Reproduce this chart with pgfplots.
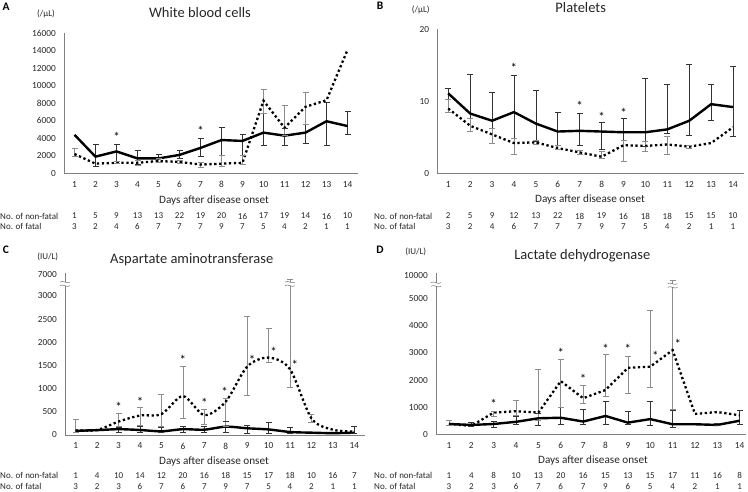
\documentclass[border=0pt]{standalone}
\usepackage{pgfplots}
\usepackage{pgfplotstable}
\pgfplotsset{compat=1.18}
\usepackage{fontspec}
\setmainfont{Carlito}

% ---------- data ----------
\pgfplotstableread{
x s d
1 4400 2200
2 1900 1100
3 2500 1200
4 1700 1200
5 1700 1400
6 2100 1300
7 2900 1000
8 3800 1100
9 3700 1200
10 4650 8300
11 4300 5200
12 4650 7600
13 5950 8350
14 5400 14100
}\Adata
\pgfplotstableread{
x lo hi
2 800 3350
3 1400 3350
4 1050 2650
5 1200 2150
6 1700 2600
7 1900 4000
8 2050 5200
9 2100 4400
10 3150 6900
11 3200 5100
12 3400 5600
13 3200 8100
14 4400 7100
}\Asb
\pgfplotstableread{
x lo hi
1 1900 2900
3 1100 1400
4 900 1500
5 1200 1700
6 1100 1500
7 700 1300
8 750 2000
9 1000 2100
10 6900 9600
11 4300 7800
12 5600 9200
}\Adb

\pgfplotstableread{
x s d
1 11.1 9.0
2 8.3 6.6
3 7.3 5.4
4 8.5 4.2
5 6.9 4.3
6 5.8 3.5
7 5.9 2.9
8 5.8 2.3
9 5.7 3.9
10 5.7 3.8
11 6.1 4.0
12 7.3 3.7
13 9.6 4.2
14 9.2 6.4
}\Bdata
\pgfplotstableread{
x lo hi
1 10.3 11.8
2 7.7 13.7
3 6.3 11.3
4 4.9 13.6
5 4.4 11.5
6 3.9 8.5
7 3.9 8.4
8 3.3 7.1
9 4.6 7.6
10 3.8 13.2
11 5.5 12.3
12 5.3 15.2
13 7.4 12.4
14 5.2 14.9
}\Bsb
\pgfplotstableread{
x lo hi
1 8.5 10.3
2 5.9 7.6
3 4.2 6.3
4 2.7 4.9
5 4.0 4.6
6 3.3 3.9
7 2.6 3.2
8 2.1 3.0
9 1.7 4.6
10 3.0 4.4
11 2.7 5.2
12 3.5 3.9
}\Bdb

% C: values above 3000 on a compressed scale (7000 drawn at 3470)
\pgfplotstableread{
x s d
1 90 100
2 105 108
3 125 290
4 108 420
5 80 450
6 125 840
7 115 430
8 180 720
9 145 1475
10 120 1670
11 65 1420
12 50 360
13 40 115
14 50 75
}\Cdata
\pgfplotstableread{
x lo hi
3 50 160
4 50 180
5 50 170
6 60 195
7 60 190
8 60 300
9 40 220
10 40 265
11 40 160
14 40 180
}\Csb
\pgfplotstableread{
x lo hi
1 60 330
3 180 470
4 215 600
5 180 885
6 350 1490
7 240 555
8 180 790
9 860 2555
10 1560 2300
11 1020 3360
12 265 455
}\Cdb

% D: values above 5000 on a compressed scale (10000 drawn at 5867)
\pgfplotstableread{
x s d
1 380 380
2 345 310
3 380 800
4 460 850
5 590 800
6 610 1960
7 470 1330
8 675 1630
9 430 2450
10 560 2490
11 370 3100
12 370 750
13 345 820
14 500 700
}\Ddata
\pgfplotstableread{
x lo hi
2 310 440
3 260 470
4 360 680
5 350 760
6 380 990
7 380 920
8 380 1200
9 380 830
10 340 1200
11 260 890
13 320 420
14 380 870
}\Dsb
\pgfplotstableread{
x lo hi
1 330 510
3 650 850
4 690 1260
5 530 2390
6 1010 2760
7 1140 1820
8 1390 2960
9 1510 2880
10 1720 4580
11 920 5680
}\Ddb

\pgfplotsset{
 panel/.style={scale only axis, anchor=south west,
  axis x line*=bottom, axis y line*=left,
  axis line style={draw=black!50, line width=0.8pt, -},
  tick style={draw=none}, xtick={1,...,14}, clip=false,
  /pgf/number format/assume math mode=true,
  /pgf/number format/set thousands separator={},
  scaled y ticks=false,
  ticklabel style={font=\fontsize{9.3}{10}\selectfont, text=black!85},
  xticklabel style={yshift=-4.3pt}, yticklabel style={xshift=-4.7pt}},
 sline/.style={black, line width=2.4pt, line join=round, mark=none},
 dline/.style={black, line width=2.3pt, dash pattern=on 2.3pt off 2.6pt, mark=none},
}
% error bars from lo to hi, with caps drawn as marks at both ends
\newcommand\bars[2]{%
 \addplot[draw=none, mark=none, forget plot, error bars/.cd, y dir=plus, y explicit, error mark=none,
   error bar style={draw=#2, line width=0.6pt, solid}]
   table[x=x, y=lo, y error plus expr=\thisrow{hi}-\thisrow{lo}] {#1};
 \addplot[only marks, mark=-, mark size=3pt, mark options={draw=#2, line width=0.6pt, solid}, forget plot]
   table[x=x, y=lo] {#1};
 \addplot[only marks, mark=-, mark size=3pt, mark options={draw=#2, line width=0.6pt, solid}, forget plot]
   table[x=x, y=hi] {#1};
}
\tikzset{
 ast/.style={font=\fontsize{13}{13}\selectfont, inner sep=0pt},
 cnt/.style={font=\fontsize{9}{10}\selectfont, inner sep=0pt, text=black!85},
 ttl/.style={font=\fontsize{14.5}{16}\selectfont, inner sep=0pt, text=black!85},
 unit/.style={font=\fontsize{9}{10}\selectfont, inner sep=0pt, text=black!85},
 xl/.style={font=\fontsize{11.2}{12}\selectfont, inner sep=0pt, text=black!85},
 pl/.style={font=\fontsize{11.5}{12}\selectfont\bfseries, inner sep=0pt},
}
\newcommand\brk[2]{%
 \fill[white] ([xshift=-5pt,yshift=-1.8pt]axis cs:#1,#2) rectangle ([xshift=5pt,yshift=1.8pt]axis cs:#1,#2);
 \draw[black!55, line width=0.5pt] ([xshift=-5pt,yshift=1.8pt]axis cs:#1,#2) .. controls +(3pt,2.5pt) and +(-3pt,-2.5pt) .. ([xshift=5pt,yshift=1.8pt]axis cs:#1,#2);
 \draw[black!55, line width=0.5pt] ([xshift=-5pt,yshift=-1.8pt]axis cs:#1,#2) .. controls +(3pt,2.5pt) and +(-3pt,-2.5pt) .. ([xshift=5pt,yshift=-1.8pt]axis cs:#1,#2);
}

\begin{document}
\begin{tikzpicture}[x=1pt,y=1pt]
\path[use as bounding box] (0,0) rectangle (748,491);

% ================= A =================
\begin{axis}[panel, at={(64pt,317.7pt)}, width=294pt, height=140pt,
  xmin=0.5, xmax=14.5, ymin=0, ymax=16000, ytick={0,2000,...,16000}]
\bars{\Asb}{black!80}
\bars{\Adb}{black!45}
\addplot[sline] table[x=x, y=s] {\Adata};
\addplot[dline] table[x=x, y=d] {\Adata};
\node[ast] at (axis cs:3,4200) {*};
\node[ast] at (axis cs:7,4850) {*};
\end{axis}
\node[pl] at (6,484) {A};
\node[unit] at (46,477.5) {(/µL)};
\node[ttl] at (200,478.3) {White blood cells};
\node[xl] at (214,290.3) {Days after disease onset};
\node[cnt, anchor=west] at (0,275) {No. of non-fatal};
\node[cnt, anchor=west] at (0,264.3) {No. of fatal};
\foreach \i/\a/\b in {1/1/3,2/5/2,3/9/4,4/13/6,5/13/7,6/22/7,7/19/7,8/20/9,9/16/7,10/17/5,11/19/4,12/14/2,13/16/1,14/10/1}{
  \node[cnt] at ({64+(\i-0.5)*21},275) {\a};
  \node[cnt] at ({64+(\i-0.5)*21},264.3) {\b};
}

% ================= B =================
\begin{axis}[panel, at={(437.3pt,317.7pt)}, width=306.7pt, height=144pt,
  xmin=0.5, xmax=14.5, ymin=0, ymax=20, ytick={0,10,20}]
\bars{\Bsb}{black!80}
\bars{\Bdb}{black!45}
\addplot[sline] table[x=x, y=s] {\Bdata};
\addplot[dline] table[x=x, y=d] {\Bdata};
\node[ast] at (axis cs:4,14.7) {*};
\node[ast] at (axis cs:7,9.4) {*};
\node[ast] at (axis cs:8,7.9) {*};
\node[ast] at (axis cs:9,8.4) {*};
\end{axis}
\node[pl] at (380,485) {B};
\node[unit] at (420.7,481) {(/µL)};
\node[ttl] at (580.7,483.5) {Platelets};
\node[xl] at (590,291) {Days after disease onset};
\node[cnt, anchor=west] at (374,275) {No. of non-fatal};
\node[cnt, anchor=west] at (374,264.3) {No. of fatal};
\foreach \i/\a/\b in {1/2/3,2/5/2,3/9/4,4/12/6,5/13/7,6/22/7,7/18/7,8/19/9,9/16/7,10/18/5,11/18/4,12/15/2,13/15/1,14/10/1}{
  \node[cnt] at ({437.3+(\i-0.5)*21.9},275) {\a};
  \node[cnt] at ({437.3+(\i-0.5)*21.9},264.3) {\b};
}

% ================= C =================
\begin{axis}[panel, at={(65pt,56pt)}, width=300pt, height=162.2pt,
  xmin=0.5, xmax=14.5, ymin=0, ymax=3500,
  ytick={0,500,1000,1500,2000,2500,3000,3470},
  yticklabels={0,500,1000,1500,2000,2500,3000,7000}]
\bars{\Csb}{black!80}
\bars{\Cdb}{black!45}
\addplot[sline, smooth] table[x=x, y=s] {\Cdata};
\addplot[dline, smooth] table[x=x, y=d] {\Cdata};
\brk{0.5}{3260}
\brk{11}{3260}
\node[ast] at (axis cs:3,600) {*};
\node[ast] at (axis cs:4,720) {*};
\node[ast] at (axis cs:6,1620) {*};
\node[ast] at (axis cs:7,690) {*};
\node[ast] at (axis cs:7.95,920) {*};
\node[ast] at (axis cs:9.23,1620) {*};
\node[ast] at (axis cs:10.23,1800) {*};
\node[ast] at (axis cs:11.23,1520) {*};
\end{axis}
\node[pl] at (6,241) {C};
\node[unit] at (47.7,234.3) {(IU/L)};
\node[ttl] at (191.7,231.7) {Aspartate aminotransferase};
\node[xl] at (214,29.3) {Days after disease onset};
\node[cnt, anchor=west] at (0,15.3) {No. of non-fatal};
\node[cnt, anchor=west] at (0,4.3) {No. of fatal};
\foreach \i/\a/\b in {1/1/3,2/4/2,3/10/3,4/14/6,5/12/7,6/20/6,7/16/7,8/18/9,9/15/7,10/17/5,11/18/4,12/10/2,13/16/1,14/7/1}{
  \node[cnt] at ({65+(\i-0.5)*21.43},15.3) {\a};
  \node[cnt] at ({65+(\i-0.5)*21.43},4.3) {\b};
}

% ================= D =================
\begin{axis}[panel, at={(436pt,56.7pt)}, width=310.4pt, height=161.5pt,
  xmin=0.42, xmax=14.3, ymin=0, ymax=5950,
  ytick={0,1000,2000,3000,4000,5000,5867},
  yticklabels={0,1000,2000,3000,4000,5000,10000}]
\bars{\Dsb}{black!80}
\bars{\Ddb}{black!45}
\addplot[sline] table[x=x, y=s] {\Ddata};
\addplot[dline] table[x=x, y=d] {\Ddata};
\brk{0.42}{5520}
\brk{11}{5480}
\node[ast] at (axis cs:3,1120) {*};
\node[ast] at (axis cs:6,3000) {*};
\node[ast] at (axis cs:7,2050) {*};
\node[ast] at (axis cs:8,3150) {*};
\node[ast] at (axis cs:9,3130) {*};
\node[ast] at (axis cs:10.23,2880) {*};
\node[ast] at (axis cs:11.23,3340) {*};
\end{axis}
\node[pl] at (380,241) {D};
\node[unit] at (415.7,239.3) {(IU/L)};
\node[ttl] at (582.3,235) {Lactate dehydrogenase};
\node[xl] at (593,30) {Days after disease onset};
\node[cnt, anchor=west] at (374,15.3) {No. of non-fatal};
\node[cnt, anchor=west] at (374,4.3) {No. of fatal};
\foreach \i/\a/\b in {1/1/3,2/4/2,3/8/3,4/10/6,5/13/7,6/20/6,7/16/7,8/15/9,9/13/6,10/15/5,11/17/4,12/11/2,13/16/1,14/8/1}{
  \node[cnt] at ({436+(\i-0.42)*22.36},15.3) {\a};
  \node[cnt] at ({436+(\i-0.42)*22.36},4.3) {\b};
}
\end{tikzpicture}
\end{document}
